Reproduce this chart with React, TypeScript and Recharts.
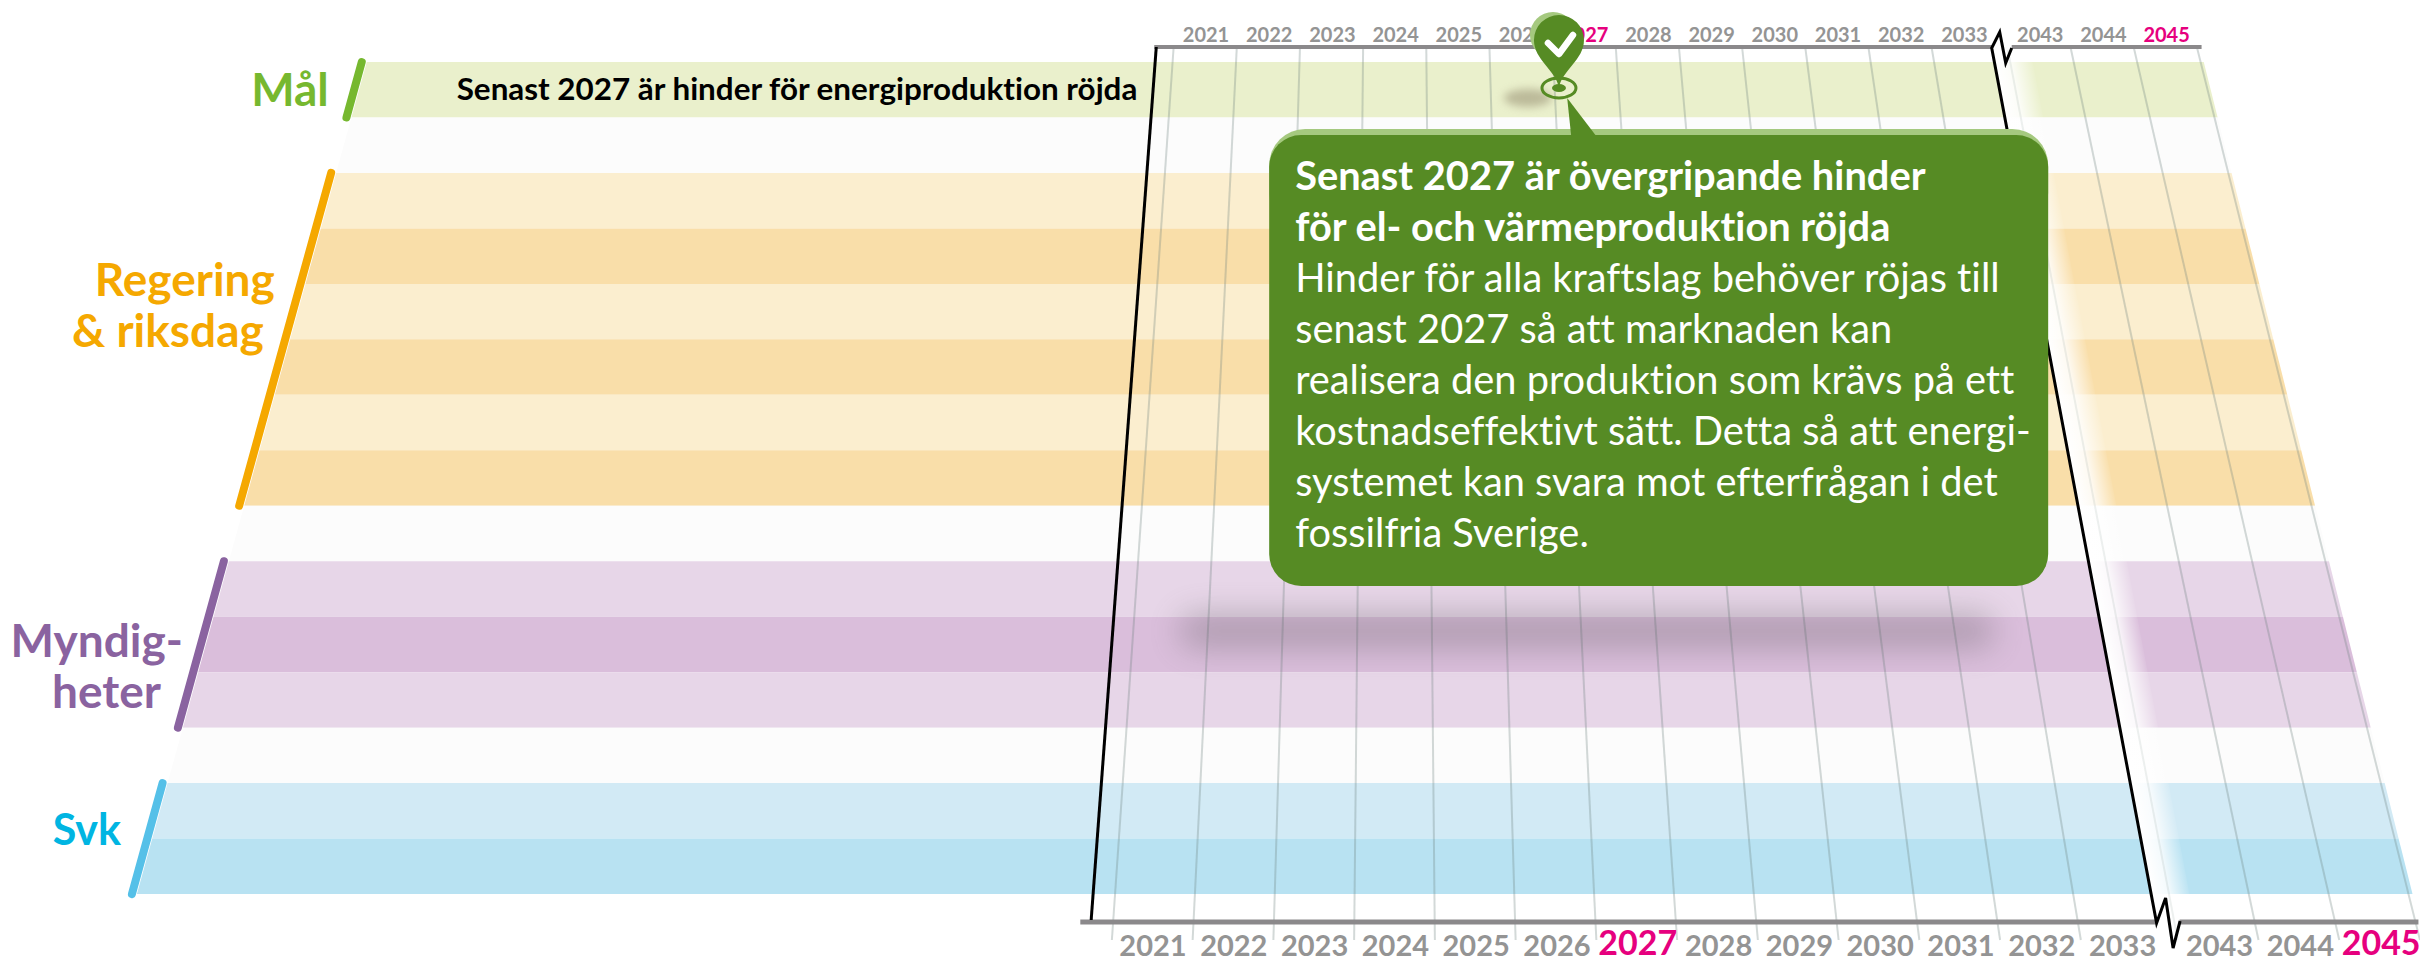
import React from 'react';
import { ComposedChart, Area, Line, Scatter, XAxis, YAxis } from 'recharts';

const years = [2021, 2022, 2023, 2024, 2025, 2026, 2027, 2028, 2029, 2030, 2031, 2032, 2033, 2043, 2044, 2045];
const yearSlots = [0, 1, 2, 3, 4, 5, 6, 7, 8, 9, 10, 11, 12, 13.2, 14.2, 15.2];
const highlightYears = [2027, 2045];
const milestoneSlot = 5.585;
const gridSlots = [-0.5, 0.5, 1.5, 2.5, 3.5, 4.5, 5.5, 6.5, 7.5, 8.5, 9.5, 10.5, 11.5, 13.7, 14.7, 15.7];
const rowFills = [
  '#eaf0cc', '#fcfcfc',
  '#fbeecf', '#f9dea9', '#fbeecf', '#f9dea9', '#fbeecf', '#f9dea9', '#fcfcfc',
  '#e7d6e8', '#dabedb', '#e7d6e8', '#fcfcfc',
  '#d2eaf5', '#b8e2f2',
];
const groupSpans = [
  { from: 0, to: 1, color: '#76b82f' },
  { from: 2, to: 8, color: '#f5a800' },
  { from: 9, to: 12, color: '#8a63a0' },
  { from: 13, to: 15, color: '#55c0e8' },
];
const groupLabels = [
  { text: 'Mål', x: 329, y: 106, color: '#76b82f' },
  { text: 'Regering', x: 275, y: 296, color: '#f5a800' },
  { text: '& riksdag', x: 264, y: 347, color: '#f5a800' },
  { text: 'Myndig-', x: 183, y: 657, color: '#8a63a0' },
  { text: 'heter', x: 161, y: 708, color: '#8a63a0' },
];
const svkLabel = { text: 'Svk', x: 121, y: 845, color: '#00b5e2' };
const goalText = 'Senast 2027 är hinder för energiproduktion röjda';
const calloutTitle = ['Senast 2027 är övergripande hinder', 'för el- och värmeproduktion röjda'];
const calloutBody = [
  'Hinder för alla kraftslag behöver röjas till',
  'senast 2027 så att marknaden kan',
  'realisera den produktion som krävs på ett',
  'kostnadseffektivt sätt. Detta så att energi-',
  'systemet kan svara mot efterfrågan i det',
  'fossilfria Sverige.',
];

const WIDTH = 2420;
const HEIGHT = 962;
const FONT = 'Lato, sans-serif';

// perspective of the timeline: a year slot gets wider further down the page
const TOP_Y = 47;
const LOW_Y = 940;
const top = { x0: 1206, step: 63.2 };
const low = { x0: 1153, step: 80.8 };
const xAt = (slot: number, y: number) => {
  const t = (y - TOP_Y) / (LOW_Y - TOP_Y);
  return top.x0 + top.step * slot + t * (low.x0 + low.step * slot - top.x0 - top.step * slot);
};
const rowY = (row: number) => 62 + row * 55.47;
const leftEdge = (y: number) => 367 - 0.2764 * (y - 62);
const axisDomain = (a: { x0: number; step: number }) => [-a.x0 / a.step, (WIDTH - a.x0) / a.step];

const bandPoints = (row: number) => {
  const y1 = rowY(row);
  const y2 = rowY(row + 1);
  return [
    { x: leftEdge(y2), band: [y2, y2] },
    { x: leftEdge(y1), band: [y1, y2] },
    { x: xAt(15.75, y1), band: [y1, y2] },
    { x: xAt(15.75, y2), band: [y2, y2] },
  ];
};

const breakLine = [
  { x: 2013, y: 48 }, { x: 2007, y: 63 }, { x: 2001, y: 32 }, { x: 1993, y: 48 },
  { x: 2158, y: 923 }, { x: 2167, y: 898 }, { x: 2174.5, y: 948 }, { x: 2181.5, y: 921 },
];

const slotData = [...yearSlots, milestoneSlot].map((slot) => ({ slot, y: 0 }));
const solid = { isAnimationActive: false, dot: false, activeDot: false, legendType: 'none' as const };

const yearTick = (baseline: number, bigBaseline: number, size: number, bigSize: number) => (props: any) => {
  const year = years[yearSlots.indexOf(props.payload.value)];
  const hot = highlightYears.includes(year);
  return (
    <text x={props.x} y={hot ? bigBaseline : baseline} textAnchor="middle" fontFamily={FONT} fontWeight={700}
      fontSize={hot ? bigSize : size} fill={hot ? '#e6007e' : '#949494'}>
      {year}
    </text>
  );
};

const textShape = (size: number, weight: number, fill?: string, anchor = 'start') => (props: any) => (
  <text x={props.cx} y={props.cy} fontFamily={FONT} fontSize={size} fontWeight={weight}
    fill={fill || props.payload.color} textAnchor={anchor} style={{ fontVariantLigatures: 'none' }}>
    {props.payload.text}
  </text>
);

const calloutShape = (props: any) => {
  const { cx, cy } = props;
  return (
    <g>
      <rect x={cx} y={cy} width={779} height={100} rx={36} fill="#a5c97f" />
      <rect x={cx} y={cy + 6} width={779} height={451} rx={32} fill="#568b24" />
      <polygon points={`${cx + 298},${cy - 31} ${cx + 302},${cy + 7} ${cx + 327},${cy + 7}`} fill="#568b24" />
    </g>
  );
};

// drawn as the tick of its own axis, so the pin lands above the year labels
const pinTick = (props: any) => {
  const cx = props.x;
  const cy = 88;
  return (
    <g>
      <ellipse cx={cx - 31} cy={cy + 10} rx={24} ry={9} fill="#9d9678" opacity={0.6} filter="url(#softPin)" />
      <ellipse cx={cx} cy={cy} rx={17} ry={10} fill="none" stroke="#568b24" strokeWidth={3} />
      <ellipse cx={cx} cy={cy} rx={7} ry={4} fill="#568b24" />
      <circle cx={cx - 6} cy={cy - 53} r={23} fill="#a5c97f" />
      <path d={`M${cx} ${cy} C${cx - 3} ${cy - 18} ${cx - 25} ${cy - 28} ${cx - 25} ${cy - 48} A25 25 0 1 1 ${cx + 25} ${cy - 48} C${cx + 25} ${cy - 28} ${cx + 3} ${cy - 18} ${cx} ${cy} Z`} fill="#568b24" />
      <polyline points={`${cx - 11},${cy - 45} ${cx},${cy - 34} ${cx + 14},${cy - 53}`} fill="none" stroke="#fff" strokeWidth={6.5} strokeLinecap="round" strokeLinejoin="round" />
    </g>
  );
};

const shadowShape = (props: any) => (
  <rect x={props.cx} y={props.cy} width={815} height={34} rx={16} fill="#4a4a4a" opacity={0.3} filter="url(#softShadow)" />
);

const App = () => (
  <div style={{ position: 'absolute', left: 0, top: 0, width: WIDTH, height: HEIGHT, background: '#fff' }}>
    {/* the year axes take 1px each, the negative margins give that back */}
    <ComposedChart width={WIDTH} height={HEIGHT} margin={{ top: -2, right: 0, bottom: -1, left: 0 }}>
      <defs>
        <linearGradient id="breakFade" gradientUnits="userSpaceOnUse" x1={1993} y1={48} x2={2030} y2={41}>
          <stop offset="0%" stopColor="#fff" stopOpacity={1} />
          <stop offset="40%" stopColor="#fff" stopOpacity={0.85} />
          <stop offset="100%" stopColor="#fff" stopOpacity={0} />
        </linearGradient>
        <filter id="softShadow" x="-10%" y="-200%" width="120%" height="500%">
          <feGaussianBlur stdDeviation="16" />
        </filter>
        <filter id="softPin" x="-50%" y="-100%" width="200%" height="300%">
          <feGaussianBlur stdDeviation="4" />
        </filter>
      </defs>

      <XAxis dataKey="x" type="number" domain={[0, WIDTH]} hide />
      <YAxis dataKey="y" type="number" domain={[0, HEIGHT]} reversed hide />
      <XAxis xAxisId="top" dataKey="slot" orientation="top" type="number" height={1} domain={axisDomain(top)} ticks={yearSlots}
        interval={0} axisLine={false} tickLine={false} tick={yearTick(42, 42, 20, 20)} />
      <XAxis xAxisId="low" dataKey="slot" orientation="bottom" type="number" height={1} domain={axisDomain(low)} ticks={yearSlots}
        interval={0} axisLine={false} tickLine={false} tick={yearTick(956, 955, 29, 34)} />
      <XAxis xAxisId="pin" dataKey="slot" orientation="top" type="number" height={1} domain={axisDomain(top)} ticks={[milestoneSlot]}
        interval={0} axisLine={false} tickLine={false} tick={pinTick} />

      {/* empty series that tie the year axes to the slots */}
      <Line xAxisId="top" data={slotData} dataKey="y" stroke="none" {...solid} />
      <Line xAxisId="low" data={slotData} dataKey="y" stroke="none" {...solid} />
      <Line xAxisId="pin" data={slotData} dataKey="y" stroke="none" {...solid} />

      {rowFills.map((fill, i) => (
        <Area key={i} data={bandPoints(i)} dataKey="band" type="linear" fill={fill} fillOpacity={1} stroke="none" {...solid} />
      ))}

      {gridSlots.map((s) => (
        <Line key={s} data={[{ x: xAt(s, TOP_Y), y: TOP_Y }, { x: xAt(s, LOW_Y), y: LOW_Y }]} dataKey="y" stroke="#6e827d"
          strokeOpacity={0.3} strokeWidth={2} {...solid} />
      ))}

      <Line data={[{ x: 2012, y: 47 }, { x: 2177, y: 923 }]} dataKey="y" stroke="url(#breakFade)" strokeWidth={38} {...solid} />
      <Line data={[{ x: xAt(12.7, 50), y: 50 }, { x: xAt(12.7, LOW_Y), y: LOW_Y }]} dataKey="y" stroke="#6e827d" strokeOpacity={0.12} strokeWidth={2} {...solid} />

      {groupSpans.map((g) => (
        <Line key={g.from} data={[rowY(g.from), rowY(g.to)].map((y) => ({ x: leftEdge(y) - 5, y }))} dataKey="y"
          stroke={g.color} strokeWidth={8} strokeLinecap="round" {...solid} />
      ))}

      <Line data={[{ x: 1155, y: TOP_Y }, { x: 1994, y: TOP_Y }]} dataKey="y" stroke="#8b898b" strokeWidth={4} {...solid} />
      <Line data={[{ x: 2013, y: TOP_Y }, { x: 2203, y: TOP_Y }]} dataKey="y" stroke="#8b898b" strokeWidth={4} {...solid} />
      <Line data={[{ x: 1081, y: 922 }, { x: 2158, y: 922 }]} dataKey="y" stroke="#8b898b" strokeWidth={5} {...solid} />
      <Line data={[{ x: 2181, y: 922 }, { x: 2420, y: 922 }]} dataKey="y" stroke="#8b898b" strokeWidth={5} {...solid} />
      <Line data={[{ x: xAt(-0.775, TOP_Y), y: TOP_Y }, { x: xAt(-0.775, 920), y: 920 }]} dataKey="y" stroke="#000" strokeWidth={3} {...solid} />
      <Line data={breakLine} dataKey="y" stroke="#000" strokeWidth={3} {...solid} />

      <Scatter data={[{ x: 1180, y: 614 }]} shape={shadowShape} isAnimationActive={false} />
      <Scatter data={[{ x: 1270, y: 129 }]} shape={calloutShape} isAnimationActive={false} />

      <Scatter data={groupLabels} shape={textShape(46, 700, undefined, 'end')} isAnimationActive={false} />
      <Scatter data={[svkLabel]} shape={textShape(43, 700, undefined, 'end')} isAnimationActive={false} />
      <Scatter data={[{ x: 457, y: 100, text: goalText }]} shape={textShape(31.4, 700, '#000')} isAnimationActive={false} />
      <Scatter data={calloutTitle.map((text, i) => ({ x: 1296, y: 190 + i * 51, text }))} shape={textShape(39.8, 700, '#fff')} isAnimationActive={false} />
      <Scatter data={calloutBody.map((text, i) => ({ x: 1296, y: 292 + i * 51, text }))} shape={textShape(39.8, 400, '#fff')} isAnimationActive={false} />
    </ComposedChart>
  </div>
);

export default App;
